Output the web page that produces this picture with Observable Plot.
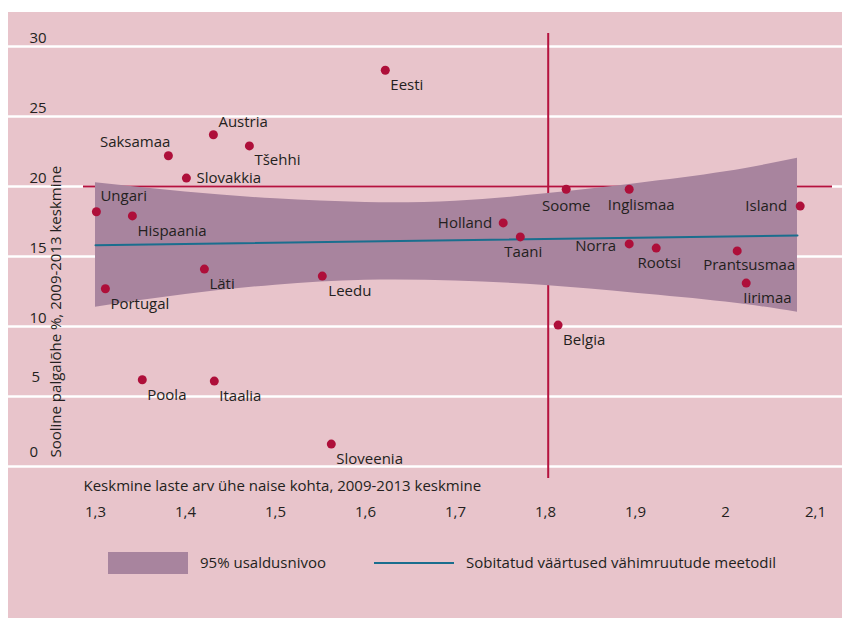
<!DOCTYPE html>
<html>
<head>
<meta charset="utf-8">
<script src="https://cdn.jsdelivr.net/npm/d3@7"></script>
<script src="https://cdn.jsdelivr.net/npm/@observablehq/plot@0.6"></script>
<style>
  html, body { margin: 0; padding: 0; background: #ffffff; }
  #panel { position: absolute; left: 8px; top: 12px; width: 834px; height: 606px; background: #e8c4cb; font-family: "Open Sans", sans-serif; color: #231f20; }
  #chart svg { display: block; }
  .leg { position: absolute; font-size: 15px; line-height: 1; }
</style>
</head>
<body>
<div id="panel">
  <div id="chart"></div>
  <div class="leg" style="left:100px; top:540px; width:80px; height:22px; background:#a8849e;"></div>
  <div class="leg" style="left:192px; top:543px;">95% usaldusnivoo</div>
  <div class="leg" style="left:366px; top:550px; width:80px; height:2px; background:#1a6e8e;"></div>
  <div class="leg" style="left:458px; top:543px;">Sobitatud väärtused vähimruutude meetodil</div>
</div>
<script>
// ---- data ----
const countries = ["Eesti","Austria","Saksamaa","Tšehhi","Slovakkia","Ungari","Hispaania","Läti","Portugal","Leedu","Poola","Itaalia","Sloveenia","Belgia","Holland","Taani","Soome","Inglismaa","Island","Norra","Rootsi","Prantsusmaa","Iirimaa"];
const fertility = [1.622,1.431,1.381,1.471,1.401,1.301,1.341,1.421,1.311,1.552,1.352,1.432,1.562,1.814,1.753,1.772,1.823,1.893,2.083,1.893,1.923,2.013,2.023];
const payGap    = [28.3,23.7,22.2,22.9,20.6,18.2,17.9,14.1,12.7,13.6,6.2,6.1,1.6,10.1,17.4,16.4,19.8,19.8,18.6,15.9,15.6,15.4,13.1];

const bandX    = [1.30,1.40,1.50,1.60,1.70,1.80,1.90,2.00,2.08];
const bandHigh = [20.26,19.6,19.12,18.86,18.95,19.48,20.2,21.05,22.02];
const bandLow  = [11.38,12.28,12.95,13.3,13.25,12.93,12.38,11.75,11.02];

const fitX = [1.30, 2.08];
const fitY = [15.8, 16.5];

const avgGap = 20;
const avgFertility = 1.803;

const xTicks = [1.3,1.4,1.5,1.6,1.7,1.8,1.9,2.0,2.1];
const xTickLabels = ["1,3","1,4","1,5","1,6","1,7","1,8","1,9","2","2,1"];
const yTicks = [0,5,10,15,20,25,30];
const yTickLabels = ["0","5","10","15","20","25","30"];

const xTitle = "Keskmine laste arv ühe naise kohta, 2009-2013 keskmine";
const yTitle = "Sooline palgalõhe %, 2009-2013 keskmine";

// ---- label placement (style config) ----
const place = {
  "Eesti": ["start",5,15], "Austria": ["start",5,-13], "Saksamaa": ["end",2,-14],
  "Tšehhi": ["start",5,14], "Slovakkia": ["start",10,0], "Ungari": ["start",4,-16],
  "Hispaania": ["start",5,15], "Läti": ["start",5,15], "Portugal": ["start",5,15],
  "Leedu": ["start",6,15], "Poola": ["start",5,15], "Itaalia": ["start",5,15],
  "Sloveenia": ["start",5,15], "Belgia": ["start",5,15], "Holland": ["end",-11,0],
  "Taani": ["middle",3,15], "Soome": ["middle",0,17], "Inglismaa": ["middle",12,16],
  "Island": ["end",-13,0], "Norra": ["end",-13,2], "Rootsi": ["middle",3,15],
  "Prantsusmaa": ["middle",12,14], "Iirimaa": ["start",-3,15]
};

const points = countries.map((c, i) => ({country: c, x: fertility[i], y: payGap[i]}));
const band = bandX.map((x, i) => ({x, lo: bandLow[i], hi: bandHigh[i]}));
const fit = fitX.map((x, i) => ({x, y: fitY[i]}));

const RED = "#b5123e";
const DOT = "#ae0f3a";
const TXT = "#231f20";
const FS = 15;

const labelMarks = points.map(p => {
  const [a, dx, dy] = place[p.country];
  return Plot.text([p], {x: "x", y: "y", text: "country", textAnchor: a, dx, dy, fill: TXT, fontSize: FS});
});

const chart = Plot.plot({
  width: 834,
  height: 530,
  marginLeft: 87,
  marginRight: 27,
  marginTop: 34,
  marginBottom: 76,
  x: {domain: [1.3, 2.1], axis: null},
  y: {domain: [0, 30], axis: null},
  style: {background: "transparent", fontFamily: "Open Sans, sans-serif", fontSize: "15px", color: TXT, overflow: "visible"},
  marks: [
    Plot.ruleY(yTicks, {y: d => d, stroke: "#ffffff", strokeWidth: 2.5, insetLeft: -87, insetRight: -27}),
    Plot.ruleY([avgGap], {y: d => d, stroke: RED, strokeWidth: 2, insetLeft: -12, insetRight: -17}),
    Plot.ruleX([avgFertility], {x: d => d, stroke: RED, strokeWidth: 2, insetTop: -13, insetBottom: -12}),
    Plot.areaY(band, {x: "x", y1: "lo", y2: "hi", fill: "#a8849e", curve: "natural"}),
    Plot.line(fit, {x: "x", y: "y", stroke: "#1a6e8e", strokeWidth: 2}),
    Plot.dot(points, {x: "x", y: "y", r: 4.5, fill: DOT, stroke: "none"}),
    ...labelMarks,
    Plot.text(yTicks.filter(d => d >= 10), {y: d => d, frameAnchor: "left", dx: -66, dy: -8, textAnchor: "start", text: d => yTickLabels[yTicks.indexOf(d)], fill: TXT, fontSize: 15}),
    Plot.text([5], {y: d => d, frameAnchor: "left", dx: -64, dy: -19, textAnchor: "start", text: d => yTickLabels[yTicks.indexOf(d)], fill: TXT, fontSize: 15}),
    Plot.text([0], {y: d => d, frameAnchor: "left", dx: -66, dy: -14, textAnchor: "start", text: d => yTickLabels[yTicks.indexOf(d)], fill: TXT, fontSize: 15}),
    Plot.text(xTicks, {x: d => d, frameAnchor: "bottom", dy: 50, text: (d, i) => xTickLabels[i], fill: TXT, fontSize: FS}),
    Plot.text([xTitle], {frameAnchor: "bottom-left", dx: -12, dy: 24, textAnchor: "start", text: d => d, fill: TXT, fontSize: FS}),
    Plot.text([yTitle], {frameAnchor: "bottom-left", dx: -35, dy: -9, rotate: -90, textAnchor: "start", text: d => d, fill: TXT, fontSize: FS})
  ]
});
document.getElementById("chart").appendChild(chart);
</script>
</body>
</html>
